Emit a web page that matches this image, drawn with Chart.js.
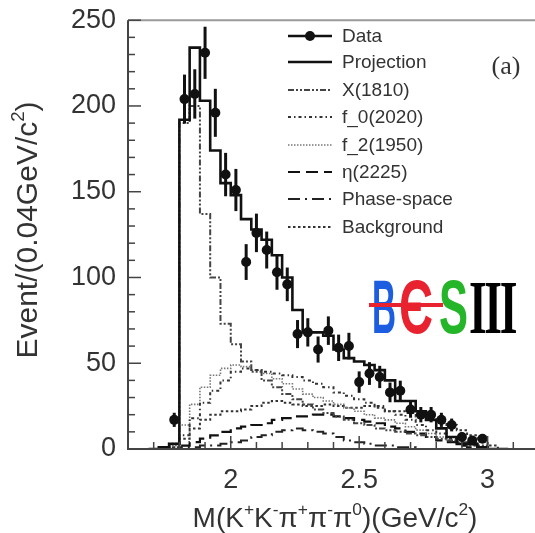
<!DOCTYPE html>
<html><head><meta charset="utf-8">
<script src="https://cdn.jsdelivr.net/npm/chart.js@4.4.0/dist/chart.umd.min.js"></script>
<style>html,body{margin:0;padding:0;background:#fff;}#wrap{width:535px;height:533px;position:relative}</style>
</head><body><div id="wrap"><canvas id="c" width="535" height="533"></canvas></div>
<script>
// ---------- data ----------
const dataMass = [1.78,1.82,1.86,1.90,1.94,1.98,2.02,2.06,2.10,2.14,2.18,2.22,2.26,2.30,2.34,2.38,2.42,2.46,2.50,2.54,2.58,2.62,2.66,2.70,2.74,2.78,2.82,2.86,2.90,2.94,2.98];
const dataEvents = [17,204,207,231,196,160,151,109,126,116,103,96,67,68,58,69,59,60,39,44,42,33,34,23,20,20,17,14,7,5,6];

const binCenters = [1.70,1.74,1.78,1.82,1.86,1.90,1.94,1.98,2.02,2.06,2.10,2.14,2.18,2.22,2.26,2.30,2.34,2.38,2.42,2.46,2.50,2.54,2.58,2.62,2.66,2.70,2.74,2.78,2.82,2.86,2.90,2.94,2.98,3.02,3.06];
const projection = [0,1,3,192,234,203,174,155,148,134,128,122,113,100,81,68,68,66,58,53,51,49,46,40,28,28,22,17,12,7,3,3,1,0,0];
const x1810 = [0,0,3,190,200,137,100,73,61,51,45,40,36,32,29,26,23,21,19,17,15,14,12,11,10,9,8,7,6,5,4,3,2,0,0];
const f0_2020 = [0,0,1,8,18,27,34,40,45,47,46,45,44,43,42,40,38,36,33,31,29,27,25,22,20,17,14,11,9,6,4,2,1,0,0];
const f2_1950 = [0,0,2,14,26,36,43,47,49,48,46,44,41,38,35,32,30,28,26,24,22,20,18,17,15,13,11,9,7,5,3,2,1,0,0];
const eta2225 = [0,0,0,2,4,6,8,10,12,13,14,15,17,18,19,19,20,20,19,18,17,16,15,13,12,10,9,7,5,4,2,1,0,0,0];
const phaseSpace = [0,0,0,1,1,2,2,3,4,5,7,8,10,11,12,11,10,9,7,5,4,3,2,2,1,1,0,0,0,0,0,0,0,0,0];
const background = [0,0,1,6,12,17,20,22,22,23,25,27,28,27,26,25,25,26,25,24,24,25,24,22,22,21,19,18,16,14,11,8,5,2,0];

const xMajorTicks = [2, 2.5, 3];
const xMinorTicks = [1.6,1.7,1.8,1.9,2.1,2.2,2.3,2.4,2.6,2.7,2.8,2.9,3.1];
const yMajorTicks = [0,50,100,150,200,250];
const yMinorTicks = [10,20,30,40,60,70,80,90,110,120,130,140,160,170,180,190,210,220,230,240];

const legendLabels = ['Data','Projection','X(1810)','f_0(2020)','f_2(1950)','η(2225)','Phase-space','Background'];
const BIN_HALF = 0.02;

// ---------- helpers ----------
function hist(vals){
  const pts = vals.map((v,i)=>({x: binCenters[i]-BIN_HALF, y: v}));
  pts.push({x: binCenters[vals.length-1]+BIN_HALF, y: vals[vals.length-1]});
  return pts;
}
const styles = {
  proj: {color:'#111', width:2.6, dash:[]},
  x1810: {color:'#444', width:2, dash:[6,2,2,2,2,2]},
  f0: {color:'#333', width:2, dash:[3,3,1.5,3]},
  f2: {color:'#777', width:1.6, dash:[1.5,1.5]},
  eta: {color:'#111', width:2.2, dash:[12,6]},
  phsp: {color:'#222', width:2, dash:[12,5,2,5]},
  bkg: {color:'#333', width:2, dash:[2.5,2.5]}
};
function histDS(label, vals, st){
  return {type:'line', label, data: hist(vals), stepped:true, borderColor: st.color, borderWidth: st.width,
    borderDash: st.dash, pointRadius:0, fill:false, tension:0};
}

const FONT = "'Liberation Sans', Arial, Helvetica, sans-serif";

function drawRich(ctx, segs, size, x, y){
  let w = 0;
  segs.forEach(s=>{ ctx.font = (s.sup? size*0.62 : size) + 'px ' + FONT; w += ctx.measureText(s.t).width; });
  let cx = x - w/2;
  segs.forEach(s=>{
    ctx.font = (s.sup? size*0.62 : size) + 'px ' + FONT;
    ctx.fillText(s.t, cx, s.sup ? y - size*0.42 : y);
    cx += ctx.measureText(s.t).width;
  });
}

const decor = {
  id:'decor',
  afterDatasetsDraw(chart){
    const ctx = chart.ctx, xs = chart.scales.x, ys = chart.scales.y;
    ctx.save();
    ctx.strokeStyle = '#111'; ctx.lineWidth = 3;
    dataMass.forEach((m,i)=>{
      const v = dataEvents[i], e = Math.sqrt(v);
      const px = xs.getPixelForValue(m);
      ctx.beginPath(); ctx.moveTo(px, ys.getPixelForValue(v+e)); ctx.lineTo(px, ys.getPixelForValue(Math.max(0,v-e))); ctx.stroke();
    });
    ctx.restore();
  },
  afterDraw(chart){
    const ctx = chart.ctx, xs = chart.scales.x, ys = chart.scales.y, a = chart.chartArea;
    ctx.save();
    ctx.strokeStyle = '#9a9a9a'; ctx.lineWidth = 2;
    ctx.beginPath(); ctx.moveTo(a.left, a.top); ctx.lineTo(535, a.top); ctx.stroke();
    ctx.strokeStyle = '#444'; ctx.lineWidth = 2;
    ctx.beginPath(); ctx.moveTo(a.left, a.top); ctx.lineTo(a.left, a.bottom); ctx.lineTo(535, a.bottom); ctx.stroke();
    ctx.lineWidth = 1.5;
    yMajorTicks.forEach(v=>{ const p = ys.getPixelForValue(v); ctx.beginPath(); ctx.moveTo(a.left,p); ctx.lineTo(a.left+13,p); ctx.stroke(); });
    yMinorTicks.forEach(v=>{ const p = ys.getPixelForValue(v); ctx.beginPath(); ctx.moveTo(a.left,p); ctx.lineTo(a.left+7,p); ctx.stroke(); });
    xMajorTicks.forEach(v=>{ const p = xs.getPixelForValue(v); ctx.beginPath(); ctx.moveTo(p,a.bottom); ctx.lineTo(p,a.bottom-13); ctx.stroke(); });
    xMinorTicks.forEach(v=>{ const p = xs.getPixelForValue(v); ctx.beginPath(); ctx.moveTo(p,a.bottom); ctx.lineTo(p,a.bottom-7); ctx.stroke(); });

    ctx.fillStyle = '#333'; ctx.textBaseline = 'alphabetic'; ctx.textAlign = 'left';
    drawRich(ctx, [{t:'M(K'},{t:'+',sup:1},{t:'K'},{t:'-',sup:1},{t:'π'},{t:'+',sup:1},{t:'π'},{t:'-',sup:1},{t:'π'},{t:'0',sup:1},{t:')(GeV/c'},{t:'2',sup:1},{t:')'}], 28, 335, 527);
    ctx.save(); ctx.translate(37, 230); ctx.rotate(-Math.PI/2);
    drawRich(ctx, [{t:'Event/(0.04GeV/c'},{t:'2',sup:1},{t:')'}], 30, 0, 0);
    ctx.restore();

    const lx0 = 288, lx1 = 332, rowY = [36,62,90,117,145,172,199,227];
    const lst = [null, styles.proj, styles.x1810, styles.f0, styles.f2, styles.eta, styles.phsp, styles.bkg];
    rowY.forEach((y,i)=>{
      ctx.save();
      if(i===0){ ctx.strokeStyle='#111'; ctx.lineWidth=2.6; ctx.setLineDash([]); }
      else { ctx.strokeStyle = lst[i].color; ctx.lineWidth = lst[i].width; ctx.setLineDash(lst[i].dash); }
      ctx.beginPath(); ctx.moveTo(lx0,y); ctx.lineTo(lx1,y); ctx.stroke();
      if(i===0){ ctx.fillStyle='#111'; ctx.beginPath(); ctx.arc((lx0+lx1)/2, y, 5, 0, Math.PI*2); ctx.fill(); }
      ctx.restore();
      ctx.fillStyle = '#333'; ctx.font = '19px ' + FONT; ctx.textBaseline='middle'; ctx.textAlign='left';
      ctx.fillText(legendLabels[i], 342, y+1);
    });

    ctx.fillStyle = '#333'; ctx.font = "26px 'Liberation Serif', 'DejaVu Serif', serif"; ctx.textBaseline='alphabetic'; ctx.textAlign='center';
    ctx.fillText('(a)', 506, 74);

    function glyph(t, color, x0, x1, base, font){
      ctx.save(); ctx.font = font; ctx.fillStyle = color; ctx.textAlign='left'; ctx.textBaseline='alphabetic';
      const w = ctx.measureText(t).width; const sx = (x1-x0)/w;
      ctx.translate(x0, base); ctx.scale(sx,1); ctx.fillText(t,0,0); ctx.restore();
    }
    glyph('B', '#1d5ee0', 372, 396, 333, "bold 76px " + FONT);
    glyph('Є', '#e8222e', 399, 433, 333, "bold 76px " + FONT);
    glyph('S', '#25b528', 439, 468, 333, "bold 76px " + FONT);
    ctx.save(); ctx.letterSpacing = '-4px';
    glyph('III', '#000', 469, 515, 333, "bold 76px 'Liberation Serif', serif");
    ctx.restore();
    ctx.fillStyle = '#e8222e'; ctx.fillRect(369, 303, 74, 4);
    ctx.restore();
  }
};

new Chart(document.getElementById('c'), {
  data: {
    datasets: [
      {type:'scatter', label:'Data', data: dataMass.map((m,i)=>({x:m, y:dataEvents[i]})), pointRadius:5, pointBackgroundColor:'#111', pointBorderWidth:0, showLine:false},
      histDS('Projection', projection, styles.proj),
      histDS('X(1810)', x1810, styles.x1810),
      histDS('f_0(2020)', f0_2020, styles.f0),
      histDS('f_2(1950)', f2_1950, styles.f2),
      histDS('η(2225)', eta2225, styles.eta),
      histDS('Phase-space', phaseSpace, styles.phsp),
      histDS('Background', background, styles.bkg)
    ]
  },
  options: {
    responsive:false, animation:false, devicePixelRatio:1,
    layout:{padding:{top:20,right:0,left:0,bottom:0}},
    plugins:{legend:{display:false}, tooltip:{enabled:false}},
    scales:{
      x:{type:'linear', min:1.6, max:3.165,
         grid:{display:false}, border:{display:false},
         afterBuildTicks: s=>{ s.ticks = xMajorTicks.map(v=>({value:v})); },
         afterFit: s=>{ s.height = 84; },
         ticks:{font:{size:27, family:FONT}, color:'#333', padding:7, callback:v=>String(v), maxRotation:0}},
      y:{type:'linear', min:0, max:250,
         grid:{display:false}, border:{display:false},
         afterBuildTicks: s=>{ s.ticks = yMajorTicks.map(v=>({value:v})); },
         afterFit: s=>{ s.width = 128; },
         ticks:{font:{size:27, family:FONT}, color:'#333', padding:4}}
    }
  },
  plugins:[decor]
});
</script></body></html>
